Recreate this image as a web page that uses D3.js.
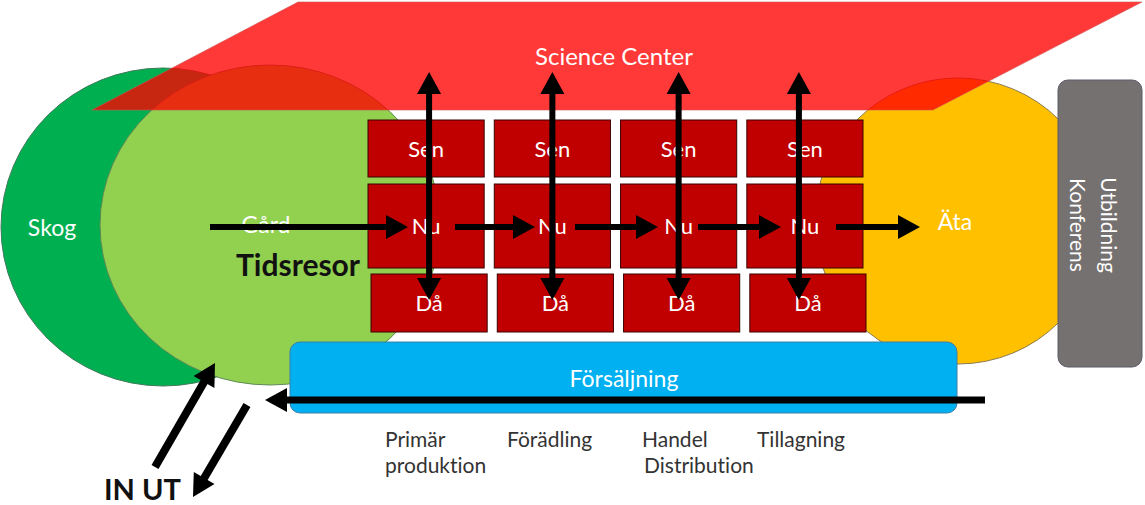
<!DOCTYPE html>
<html>
<head>
<meta charset="utf-8">
<script src="https://cdn.jsdelivr.net/npm/d3@7"></script>
<style>
  body { margin: 0; background: #fff; }
  svg { display: block; font-family: Lato, "Open Sans", sans-serif; font-variant-ligatures: none; }
</style>
</head>
<body>
<div id="diagram"></div>
<script>
// diagram content
const stages = ["Primär produktion", "Förädling", "Handel Distribution", "Tillagning"];
const stageLines = [["Primär", "produktion"], ["Förädling"], ["Handel", "Distribution"], ["Tillagning"]];
const timeRows = ["Sen", "Nu", "Då"];
const areas = ["Skog", "Gård", "Äta"];
const topLabel = "Science Center";
const sideLabels = ["Utbildning", "Konferens"];
const salesLabel = "Försäljning";

const width = 1145, height = 505;

const svg = d3.select("#diagram").append("svg")
    .attr("width", width)
    .attr("height", height);

// columns (stages) and rows (time)
const x = d3.scaleBand().domain(stages).range([368, 863]).paddingInner(0.08);
const rowTop = d3.scaleOrdinal().domain(timeRows).range([120, 184, 274]);
const rowH = d3.scaleOrdinal().domain(timeRows).range([57, 84, 58]);
const rowShift = d3.scaleOrdinal().domain(timeRows).range([0, 0, 3]);

function arrow(g, x1, y1, x2, y2, opts) {
    const o = Object.assign({w: 6, hl: 22, hw: 24, both: false}, opts || {});
    const a = Math.atan2(y2 - y1, x2 - x1);
    const cos = Math.cos(a), sin = Math.sin(a);
    const sx = o.both ? x1 + cos * o.hl * 0.9 : x1;
    const sy = o.both ? y1 + sin * o.hl * 0.9 : y1;
    g.append("line")
        .attr("x1", sx).attr("y1", sy)
        .attr("x2", x2 - cos * o.hl * 0.9).attr("y2", y2 - sin * o.hl * 0.9)
        .attr("stroke", "#000").attr("stroke-width", o.w);
    const head = (tx, ty, c, s) => {
        const bx = tx - c * o.hl, by = ty - s * o.hl;
        const px = -s * o.hw / 2, py = c * o.hw / 2;
        g.append("polygon")
            .attr("points", [[tx, ty], [bx + px, by + py], [bx - px, by - py]].map(p => p.join(",")).join(" "))
            .attr("fill", "#000");
    };
    head(x2, y2, cos, sin);
    if (o.both) head(x1, y1, -cos, -sin);
}

// circles
svg.append("ellipse").attr("cx", 163).attr("cy", 227).attr("rx", 162).attr("ry", 159)
    .attr("fill", "#00b050").attr("stroke", "#3f7a5a").attr("stroke-width", 1);
svg.append("ellipse").attr("cx", 270).attr("cy", 225).attr("rx", 170).attr("ry", 160)
    .attr("fill", "#92d050").attr("stroke", "#5e8a55").attr("stroke-width", 1);
svg.append("circle").attr("cx", 958).attr("cy", 221).attr("r", 143)
    .attr("fill", "#ffc000").attr("stroke", "#8a7a50").attr("stroke-width", 1);

// side box
svg.append("rect").attr("x", 1058).attr("y", 80).attr("width", 84).attr("height", 287)
    .attr("rx", 10).attr("fill", "#767171").attr("stroke", "#5a5a6a");
sideLabels.forEach((t, i) => {
    svg.append("text")
        .attr("transform", `translate(${1101 - i * 31},225) rotate(90)`)
        .attr("text-anchor", "middle").attr("fill", "#fff")
        .attr("font-size", 21).text(t);
});

// science center
svg.append("polygon")
    .attr("points", "298,2 1142,2 933,110 92,110")
    .attr("fill", "#ff0000").attr("fill-opacity", 0.78)
    .attr("stroke", "#c55").attr("stroke-width", 0.6);
svg.append("text").attr("x", 614).attr("y", 65).attr("text-anchor", "middle")
    .attr("fill", "#fff").attr("font-size", 24).text(topLabel);

// boxes
const cells = [];
stages.forEach(s => timeRows.forEach(r => cells.push({s, r})));
svg.selectAll("rect.cell").data(cells).join("rect")
    .attr("class", "cell")
    .attr("x", d => x(d.s) + rowShift(d.r))
    .attr("y", d => rowTop(d.r))
    .attr("width", x.bandwidth())
    .attr("height", d => rowH(d.r))
    .attr("fill", "#c00000").attr("stroke", "#3a0000").attr("stroke-width", 1);
svg.selectAll("text.cell").data(cells).join("text")
    .attr("class", "cell")
    .attr("x", d => x(d.s) + x.bandwidth() / 2 + rowShift(d.r))
    .attr("y", d => rowTop(d.r) + rowH(d.r) / 2 + 8)
    .attr("text-anchor", "middle").attr("fill", "#fff").attr("font-size", 22)
    .text(d => d.r);

// area labels
svg.append("text").attr("x", 52).attr("y", 236).attr("text-anchor", "middle")
    .attr("fill", "#fff").attr("font-size", 23).text(areas[0]);
svg.append("text").attr("x", 266).attr("y", 233).attr("text-anchor", "middle")
    .attr("fill", "#fff").attr("font-size", 23).text(areas[1]);
svg.append("text").attr("x", 955).attr("y", 230).attr("text-anchor", "middle")
    .attr("fill", "#fff").attr("font-size", 23).text(areas[2]);
svg.append("text").attr("x", 298).attr("y", 276).attr("text-anchor", "middle")
    .attr("fill", "#111").attr("font-size", 30).attr("font-weight", "bold").text("Tidsresor");

// sales bar
svg.append("rect").attr("x", 290).attr("y", 342).attr("width", 667).attr("height", 71)
    .attr("rx", 10).attr("fill", "#00b0f0").attr("stroke", "#3d7fa8");
svg.append("text").attr("x", 624).attr("y", 387).attr("text-anchor", "middle")
    .attr("fill", "#fff").attr("font-size", 23).text(salesLabel);

// arrows
const ag = svg.append("g");
arrow(ag, 210, 227, 408, 227);
const hx = [[455, 535], [575, 658], [698, 781], [836, 920]];
hx.forEach(h => arrow(ag, h[0], 227, h[1], 227));
stages.forEach((s, i) => {
    const cx = x(s) + x.bandwidth() / 2 + [3, 0, 0, -6][i];
    arrow(ag, cx, 72, cx, 300, {both: true});
});
arrow(ag, 985, 400, 265, 400, {w: 7});
arrow(ag, 155, 467, 215, 363, {w: 8});
arrow(ag, 247, 405, 193, 497, {w: 8});

svg.append("text").attr("x", 104).attr("y", 500)
    .attr("fill", "#111").attr("font-size", 29).attr("font-weight", "bold").text("IN UT");

// stage labels
const stageX = [385, 507, 642, 757];
stageLines.forEach((lines, i) => {
    lines.forEach((t, j) => {
        svg.append("text").attr("x", stageX[i] + (j && i === 2 ? 2 : 0)).attr("y", 447 + j * 26)
            .attr("fill", "#333").attr("font-size", 21).text(t);
    });
});
</script>
</body>
</html>
